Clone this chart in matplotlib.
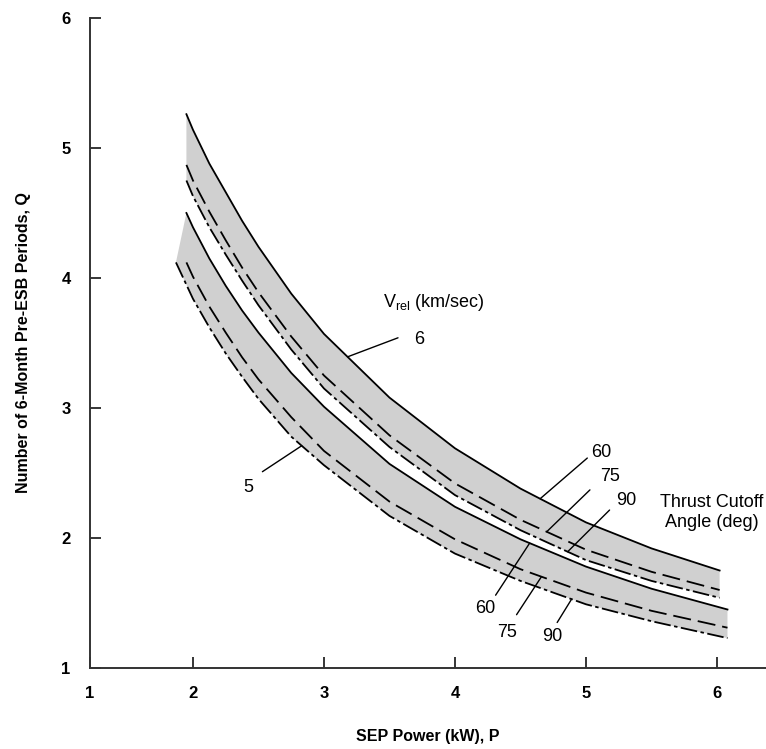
import numpy as np
import matplotlib
matplotlib.use('Agg')
import matplotlib.pyplot as plt

plt.rcParams['font.family'] = ['Liberation Sans', 'DejaVu Sans']
plt.rcParams['mathtext.fontset'] = 'custom'
plt.rcParams['mathtext.rm'] = 'Liberation Sans'
plt.rcParams['lines.scale_dashes'] = False

# SEP power (kW) where the curves were read
p_up = [1.95, 2.0, 2.125, 2.25, 2.375, 2.5, 2.75, 3.0, 3.5, 4.0, 4.5, 5.0, 5.5, 6.02]
p_lo = [1.95, 2.0, 2.125, 2.25, 2.375, 2.5, 2.75, 3.0, 3.5, 4.0, 4.5, 5.0, 5.5, 6.08]
p_lo90 = [1.87, 2.0, 2.125, 2.25, 2.375, 2.5, 2.75, 3.0, 3.5, 4.0, 4.5, 5.0, 5.5, 6.08]

# Vrel = 6 km/sec, thrust cutoff angle 60 / 75 / 90 deg
q6_60 = [5.26, 5.14, 4.88, 4.66, 4.44, 4.24, 3.88, 3.57, 3.08, 2.69, 2.38, 2.12, 1.92, 1.75]
q6_75 = [4.87, 4.75, 4.51, 4.29, 4.08, 3.89, 3.55, 3.25, 2.79, 2.42, 2.14, 1.91, 1.74, 1.60]
q6_90 = [4.75, 4.63, 4.39, 4.18, 3.98, 3.79, 3.45, 3.15, 2.70, 2.33, 2.06, 1.83, 1.67, 1.54]

# Vrel = 5 km/sec
q5_60 = [4.50, 4.39, 4.15, 3.94, 3.75, 3.58, 3.27, 3.01, 2.57, 2.24, 1.99, 1.78, 1.61, 1.45]
q5_75 = [4.12, 4.01, 3.78, 3.58, 3.39, 3.22, 2.93, 2.67, 2.28, 1.99, 1.76, 1.58, 1.44, 1.31]
q5_90 = [4.12, 3.84, 3.62, 3.42, 3.24, 3.07, 2.78, 2.56, 2.17, 1.88, 1.67, 1.49, 1.36, 1.23]

xtick_pos = [1.214, 2, 3, 4, 5, 6]
xtick_labels = ['1', '2', '3', '4', '5', '6']
ytick_labels = ['1', '2', '3', '4', '5', '6']

fig = plt.figure(figsize=(7.66, 7.49), dpi=100)
ax = fig.add_axes([90/766, 81/749, 676/766, 650/749])

gray = '#d0d0d0'
ax.fill(np.concatenate([p_up, p_up[::-1]]), np.concatenate([q6_60, q6_90[::-1]]),
        color=gray, lw=0)
ax.fill(np.concatenate([p_lo, p_lo90[::-1]]), np.concatenate([q5_60, q5_90[::-1]]),
        color=gray, lw=0)

solid = dict(color='black', lw=1.3)
ax.plot(p_up, q6_60, **solid)
ax.plot(p_up, q6_75, color='black', lw=1.3, dashes=(13, 5))
ax.plot(p_up, q6_90, color='black', lw=1.3, dashes=(12, 2.5, 2.5, 2.5))
ax.plot(p_lo, q5_60, **solid)
ax.plot(p_lo, q5_75, color='black', lw=1.3, dashes=(13, 5))
ax.plot(p_lo90, q5_90, color='black', lw=1.3, dashes=(12, 2.5, 2.5, 2.5))


def leader(px, qx, x_on, start):
    y_on = np.interp(x_on, px, qx)
    ax.annotate('', xy=(x_on, y_on), xytext=start,
                arrowprops=dict(arrowstyle='-', lw=1.0, color='black',
                                shrinkA=0, shrinkB=0))


leader(p_up, q6_60, 3.18, (3.565, 3.54))
leader(p_lo90, q5_90, 2.83, (2.53, 2.51))
leader(p_up, q6_60, 4.65, (5.01, 2.615))
leader(p_up, q6_75, 4.70, (5.03, 2.37))
leader(p_up, q6_90, 4.86, (5.18, 2.215))
leader(p_lo, q5_60, 4.57, (4.31, 1.56))
leader(p_lo, q5_75, 4.66, (4.47, 1.41))
leader(p_lo90, q5_90, 4.89, (4.78, 1.35))

fs = 13
ax.text(3.45, 3.81, r'V$_{\rm rel}$ (km/sec)', fontsize=fs, ha='left', va='center')
ax.text(3.73, 3.53, '6', fontsize=fs, ha='center', va='center')
ax.text(2.42, 2.39, '5', fontsize=fs, ha='center', va='center')
ax.text(5.12, 2.66, '60', fontsize=fs, ha='center', va='center')
ax.text(5.18, 2.47, '75', fontsize=fs, ha='center', va='center')
ax.text(5.31, 2.29, '90', fontsize=fs, ha='center', va='center')
ax.text(5.96, 2.195, 'Thrust Cutoff\nAngle (deg)', fontsize=fs, ha='center',
        va='center', linespacing=1.2)
ax.text(4.23, 1.46, '60', fontsize=fs, ha='center', va='center')
ax.text(4.40, 1.27, '75', fontsize=fs, ha='center', va='center')
ax.text(4.74, 1.24, '90', fontsize=fs, ha='center', va='center')

ax.set_xlim(1.214, 6.374)
ax.set_ylim(1, 6)
ax.set_xticks(xtick_pos)
ax.set_xticklabels(xtick_labels, fontsize=12, fontweight='bold')
ax.set_yticks(range(1, 7))
ax.set_yticklabels(ytick_labels, fontsize=12, fontweight='bold')
ax.tick_params(axis='x', direction='in', length=8, width=1.1, pad=13)
ax.tick_params(axis='y', direction='in', length=8, width=1.1, pad=14)
for s in ['top', 'right']:
    ax.spines[s].set_visible(False)
for s in ['left', 'bottom']:
    ax.spines[s].set_linewidth(1.4)
    ax.spines[s].set_color('#333333')

ax.set_xlabel('SEP Power (kW), P', fontsize=11.5, fontweight='bold', labelpad=20)
ax.set_ylabel('Number of 6-Month Pre-ESB Periods, Q', fontsize=11.5,
              fontweight='bold', labelpad=22)

fig.savefig('out.png', dpi=100)
